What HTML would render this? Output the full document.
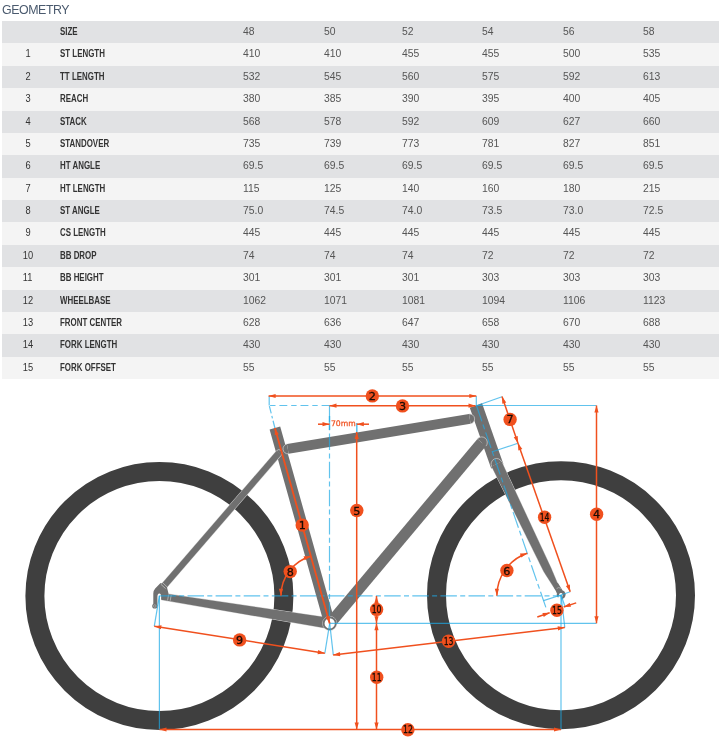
<!DOCTYPE html>
<html><head><meta charset="utf-8"><title>Geometry</title>
<style>
html,body{margin:0;padding:0;background:#fff;}
body{width:725px;height:745px;position:relative;overflow:hidden;font-family:"Liberation Sans",Arial,sans-serif;}
h2{position:absolute;left:2px;top:2px;margin:0;font-weight:normal;font-size:12.4px;letter-spacing:-0.45px;color:#4a5a6e;line-height:16px;}
.r{position:absolute;left:2px;width:717px;height:23px;}
.r span{position:absolute;top:-1.5px;line-height:22px;white-space:nowrap;}
.n{left:0;width:52px;text-align:center;font-size:10.8px;color:#333;}
.n i{font-style:normal;display:inline-block;transform:scaleX(0.86);transform-origin:50% 50%;}
.l{left:58px;font-size:11px;color:#333;font-weight:bold;}
.l i{font-style:normal;display:inline-block;transform:scaleX(0.72);transform-origin:0 50%;}
.v{font-size:10.8px;color:#555;top:-1.5px !important;}
.v i{font-style:normal;display:inline-block;transform:scaleX(0.96);transform-origin:0 50%;}
svg{position:absolute;left:0;top:0;}
.r,h2{will-change:transform;}
.bn{font-family:"DejaVu Sans",sans-serif;fill:#1a0c06;stroke:#1a0c06;stroke-width:0.3;}
.mm{font-family:"DejaVu Sans",sans-serif;stroke:#f0501e;stroke-width:0.25;}
</style></head><body>
<h2>GEOMETRY</h2>
<div class="r" style="top:21px;background:#e1e2e4"><span class="n"><i></i></span><span class="l"><i>SIZE</i></span><span class="v" style="left:241px"><i>48</i></span><span class="v" style="left:322px"><i>50</i></span><span class="v" style="left:400px"><i>52</i></span><span class="v" style="left:480px"><i>54</i></span><span class="v" style="left:561px"><i>56</i></span><span class="v" style="left:641px"><i>58</i></span></div>
<div class="r" style="top:43.38px;background:#f4f4f4"><span class="n"><i>1</i></span><span class="l"><i>ST LENGTH</i></span><span class="v" style="left:241px"><i>410</i></span><span class="v" style="left:322px"><i>410</i></span><span class="v" style="left:400px"><i>455</i></span><span class="v" style="left:480px"><i>455</i></span><span class="v" style="left:561px"><i>500</i></span><span class="v" style="left:641px"><i>535</i></span></div>
<div class="r" style="top:65.75px;background:#e1e2e4"><span class="n"><i>2</i></span><span class="l"><i>TT LENGTH</i></span><span class="v" style="left:241px"><i>532</i></span><span class="v" style="left:322px"><i>545</i></span><span class="v" style="left:400px"><i>560</i></span><span class="v" style="left:480px"><i>575</i></span><span class="v" style="left:561px"><i>592</i></span><span class="v" style="left:641px"><i>613</i></span></div>
<div class="r" style="top:88.12px;background:#f4f4f4"><span class="n"><i>3</i></span><span class="l"><i>REACH</i></span><span class="v" style="left:241px"><i>380</i></span><span class="v" style="left:322px"><i>385</i></span><span class="v" style="left:400px"><i>390</i></span><span class="v" style="left:480px"><i>395</i></span><span class="v" style="left:561px"><i>400</i></span><span class="v" style="left:641px"><i>405</i></span></div>
<div class="r" style="top:110.5px;background:#e1e2e4"><span class="n"><i>4</i></span><span class="l"><i>STACK</i></span><span class="v" style="left:241px"><i>568</i></span><span class="v" style="left:322px"><i>578</i></span><span class="v" style="left:400px"><i>592</i></span><span class="v" style="left:480px"><i>609</i></span><span class="v" style="left:561px"><i>627</i></span><span class="v" style="left:641px"><i>660</i></span></div>
<div class="r" style="top:132.88px;background:#f4f4f4"><span class="n"><i>5</i></span><span class="l"><i>STANDOVER</i></span><span class="v" style="left:241px"><i>735</i></span><span class="v" style="left:322px"><i>739</i></span><span class="v" style="left:400px"><i>773</i></span><span class="v" style="left:480px"><i>781</i></span><span class="v" style="left:561px"><i>827</i></span><span class="v" style="left:641px"><i>851</i></span></div>
<div class="r" style="top:155.25px;background:#e1e2e4"><span class="n"><i>6</i></span><span class="l"><i>HT ANGLE</i></span><span class="v" style="left:241px"><i>69.5</i></span><span class="v" style="left:322px"><i>69.5</i></span><span class="v" style="left:400px"><i>69.5</i></span><span class="v" style="left:480px"><i>69.5</i></span><span class="v" style="left:561px"><i>69.5</i></span><span class="v" style="left:641px"><i>69.5</i></span></div>
<div class="r" style="top:177.62px;background:#f4f4f4"><span class="n"><i>7</i></span><span class="l"><i>HT LENGTH</i></span><span class="v" style="left:241px"><i>115</i></span><span class="v" style="left:322px"><i>125</i></span><span class="v" style="left:400px"><i>140</i></span><span class="v" style="left:480px"><i>160</i></span><span class="v" style="left:561px"><i>180</i></span><span class="v" style="left:641px"><i>215</i></span></div>
<div class="r" style="top:200px;background:#e1e2e4"><span class="n"><i>8</i></span><span class="l"><i>ST ANGLE</i></span><span class="v" style="left:241px"><i>75.0</i></span><span class="v" style="left:322px"><i>74.5</i></span><span class="v" style="left:400px"><i>74.0</i></span><span class="v" style="left:480px"><i>73.5</i></span><span class="v" style="left:561px"><i>73.0</i></span><span class="v" style="left:641px"><i>72.5</i></span></div>
<div class="r" style="top:222.38px;background:#f4f4f4"><span class="n"><i>9</i></span><span class="l"><i>CS LENGTH</i></span><span class="v" style="left:241px"><i>445</i></span><span class="v" style="left:322px"><i>445</i></span><span class="v" style="left:400px"><i>445</i></span><span class="v" style="left:480px"><i>445</i></span><span class="v" style="left:561px"><i>445</i></span><span class="v" style="left:641px"><i>445</i></span></div>
<div class="r" style="top:244.75px;background:#e1e2e4"><span class="n"><i>10</i></span><span class="l"><i>BB DROP</i></span><span class="v" style="left:241px"><i>74</i></span><span class="v" style="left:322px"><i>74</i></span><span class="v" style="left:400px"><i>74</i></span><span class="v" style="left:480px"><i>72</i></span><span class="v" style="left:561px"><i>72</i></span><span class="v" style="left:641px"><i>72</i></span></div>
<div class="r" style="top:267.12px;background:#f4f4f4"><span class="n"><i>11</i></span><span class="l"><i>BB HEIGHT</i></span><span class="v" style="left:241px"><i>301</i></span><span class="v" style="left:322px"><i>301</i></span><span class="v" style="left:400px"><i>301</i></span><span class="v" style="left:480px"><i>303</i></span><span class="v" style="left:561px"><i>303</i></span><span class="v" style="left:641px"><i>303</i></span></div>
<div class="r" style="top:289.5px;background:#e1e2e4"><span class="n"><i>12</i></span><span class="l"><i>WHEELBASE</i></span><span class="v" style="left:241px"><i>1062</i></span><span class="v" style="left:322px"><i>1071</i></span><span class="v" style="left:400px"><i>1081</i></span><span class="v" style="left:480px"><i>1094</i></span><span class="v" style="left:561px"><i>1106</i></span><span class="v" style="left:641px"><i>1123</i></span></div>
<div class="r" style="top:311.88px;background:#f4f4f4"><span class="n"><i>13</i></span><span class="l"><i>FRONT CENTER</i></span><span class="v" style="left:241px"><i>628</i></span><span class="v" style="left:322px"><i>636</i></span><span class="v" style="left:400px"><i>647</i></span><span class="v" style="left:480px"><i>658</i></span><span class="v" style="left:561px"><i>670</i></span><span class="v" style="left:641px"><i>688</i></span></div>
<div class="r" style="top:334.25px;background:#e1e2e4"><span class="n"><i>14</i></span><span class="l"><i>FORK LENGTH</i></span><span class="v" style="left:241px"><i>430</i></span><span class="v" style="left:322px"><i>430</i></span><span class="v" style="left:400px"><i>430</i></span><span class="v" style="left:480px"><i>430</i></span><span class="v" style="left:561px"><i>430</i></span><span class="v" style="left:641px"><i>430</i></span></div>
<div class="r" style="top:356.62px;background:#f4f4f4;height:22.4px"><span class="n"><i>15</i></span><span class="l"><i>FORK OFFSET</i></span><span class="v" style="left:241px"><i>55</i></span><span class="v" style="left:322px"><i>55</i></span><span class="v" style="left:400px"><i>55</i></span><span class="v" style="left:480px"><i>55</i></span><span class="v" style="left:561px"><i>55</i></span><span class="v" style="left:641px"><i>55</i></span></div>
<svg width="725" height="745" viewBox="0 0 725 745">
<circle cx="159.4" cy="596" r="124.5" fill="none" stroke="#3f3f3f" stroke-width="19"/>
<circle cx="561" cy="595.2" r="124.5" fill="none" stroke="#3f3f3f" stroke-width="19"/>
<polygon points="161.46,599.86 328.84,628.73 330.56,618.07 162.54,593.14" fill="#707070" stroke="#d4d4d4" stroke-width="1" paint-order="stroke"/>
<line x1="274.9" y1="428" x2="329.7" y2="623.4" stroke="#707070" stroke-width="11" stroke-linecap="butt"/>
<line x1="279" y1="452.8" x2="163.5" y2="586.5" stroke="#d4d4d4" stroke-width="7.2" stroke-linecap="butt"/>
<line x1="279" y1="452.8" x2="163.5" y2="586.5" stroke="#707070" stroke-width="6.3" stroke-linecap="butt"/>
<path d="M281.42,454.89 A3.2,3.2 0 0 0 276.58,450.71 Z" fill="#707070"/><path d="M281.42,454.89 A3.2,3.2 0 0 0 276.58,450.71" fill="none" stroke="#d2d2d2" stroke-width="0.7"/>
<path d="M160.5,583 L155.2,588.5 Q153.3,590.6 153.3,593.5 L153.3,606 L157.4,606 L157.4,597 Q157.4,593.4 159.3,593.4 Q161.2,593.4 161.2,597 L161.2,599.5 L168,600.3 L168.5,593.5 L166.5,585.5 Z" fill="#707070"/>
<circle cx="154.8" cy="606" r="2.6" fill="#707070"/><circle cx="154.8" cy="606" r="1.3" fill="none" stroke="#bbb" stroke-width="0.6"/>
<path d="M160.8,584.2 L165.6,588.6 M162.5,582.6 L167.2,587" stroke="#d8d8d8" stroke-width="0.6" fill="none"/>
<path d="M168.6,594.6 L167.6,600.4 M171.2,595 L170.2,600.8" stroke="#d8d8d8" stroke-width="0.6" fill="none"/>
<line x1="475.9" y1="405.5" x2="497.32" y2="466.32" stroke="#707070" stroke-width="13" stroke-linecap="butt"/>
<line x1="481.7" y1="442.5" x2="330.1" y2="623.4" stroke="#707070" stroke-width="11.2" stroke-linecap="butt"/>
<path d="M485.99,446.1 A5.6,5.6 0 0 0 477.41,438.9 Z" fill="#707070"/><path d="M485.99,446.1 A5.6,5.6 0 0 0 477.41,438.9" fill="none" stroke="#d2d2d2" stroke-width="0.7"/>
<line x1="287.8" y1="448.9" x2="469.8" y2="418.9" stroke="#707070" stroke-width="10" stroke-linecap="butt"/>
<path d="M286.99,443.97 A5,5 0 0 0 288.61,453.83 Z" fill="#707070"/><path d="M286.99,443.97 A5,5 0 0 0 288.61,453.83" fill="none" stroke="#d2d2d2" stroke-width="0.7"/>
<path d="M470.61,423.83 A5,5 0 0 0 468.99,413.97 Z" fill="#707070"/><path d="M470.61,423.83 A5,5 0 0 0 468.99,413.97" fill="none" stroke="#d2d2d2" stroke-width="0.7"/>
<polygon points="491.64,466.38 543.81,571.8 555.51,590.05 559.49,587.95 551.19,568.2 501.56,461.62" fill="#707070" stroke="#d4d4d4" stroke-width="1" paint-order="stroke"/>
<path d="M501.56,461.62 A5.5,5.5 0 0 0 491.64,466.38 Z" fill="#707070"/><path d="M501.56,461.62 A5.5,5.5 0 0 0 491.64,466.38" fill="none" stroke="#d2d2d2" stroke-width="0.7"/>
<polygon points="553.21,585.23 556.94,593.54 562.66,590.46 557.79,582.77" fill="#707070"/>
<circle cx="561.2" cy="594.6" r="4.4" fill="#707070"/>
<path d="M559.2,594.2 A1.8,1.8 0 1 1 562.6,595.4 L561.2,600.5 L557.6,599.6 Z" fill="#fff"/>
<path d="M556.6,588.6 Q558.6,586.4 561.2,588.6" stroke="#c8c8c8" stroke-width="0.6" fill="none"/>
<circle cx="329.7" cy="623.4" r="7.1" fill="none" stroke="#d4d4d4" stroke-width="0.7"/>
<circle cx="329.7" cy="623.4" r="6.0" fill="#fff" stroke="#707070" stroke-width="1.7"/>
<line x1="274.9" y1="428" x2="269.2" y2="405.5" stroke="#1eaae6" stroke-width="1.2" stroke-dasharray="7.5,2.5,2.5,2.5" stroke-opacity="0.7"/>
<line x1="269.2" y1="405.5" x2="269.2" y2="396" stroke="#1eaae6" stroke-width="1.2" stroke-opacity="0.7"/>
<line x1="329.5" y1="405.5" x2="269.2" y2="405.5" stroke="#1eaae6" stroke-width="1.2" stroke-dasharray="7.9,3.9,5.4,3.9" stroke-opacity="0.7"/>
<line x1="329.5" y1="405.5" x2="329.5" y2="623" stroke="#1eaae6" stroke-width="1.2" stroke-dasharray="16.5,3.3,5,3.3" stroke-opacity="0.7"/>
<line x1="476.3" y1="396" x2="476.3" y2="405.5" stroke="#1eaae6" stroke-width="1.2" stroke-opacity="0.7"/>
<line x1="476.3" y1="405.5" x2="596.5" y2="405.5" stroke="#1eaae6" stroke-width="1.2" stroke-opacity="0.7"/>
<line x1="476.5" y1="405.8" x2="546.8" y2="610.11" stroke="#1eaae6" stroke-width="1.2" stroke-dasharray="16.5,3.3,5,3.3" stroke-opacity="0.7"/>
<line x1="476.5" y1="405.8" x2="502" y2="396.8" stroke="#1eaae6" stroke-width="1.2" stroke-opacity="0.7"/>
<line x1="492.3" y1="451.8" x2="517.9" y2="443.2" stroke="#1eaae6" stroke-width="1.2" stroke-opacity="0.7"/>
<line x1="159.4" y1="595.8" x2="561" y2="595.8" stroke="#1eaae6" stroke-width="1.2" stroke-dasharray="16.5,3.3,5,3.3" stroke-opacity="0.7"/>
<line x1="329.7" y1="623.4" x2="596.5" y2="623.4" stroke="#1eaae6" stroke-width="1.2" stroke-opacity="0.7"/>
<line x1="159.4" y1="595.8" x2="159.4" y2="729.5" stroke="#1eaae6" stroke-width="1.2" stroke-opacity="0.7"/>
<line x1="159.4" y1="595.8" x2="154.3" y2="626.2" stroke="#1eaae6" stroke-width="1.2" stroke-opacity="0.7"/>
<line x1="329.7" y1="623.4" x2="324.8" y2="653.5" stroke="#1eaae6" stroke-width="1.2" stroke-opacity="0.7"/>
<line x1="329.7" y1="623.4" x2="333.3" y2="655" stroke="#1eaae6" stroke-width="1.2" stroke-opacity="0.7"/>
<line x1="561" y1="595" x2="561" y2="729.5" stroke="#1eaae6" stroke-width="1.2" stroke-opacity="0.7"/>
<line x1="561" y1="595" x2="564.8" y2="627.5" stroke="#1eaae6" stroke-width="1.2" stroke-opacity="0.7"/>
<line x1="356.8" y1="423" x2="356.8" y2="433" stroke="#1eaae6" stroke-width="1.6" stroke-opacity="0.7"/>
<line x1="329.5" y1="416" x2="329.5" y2="430" stroke="#1eaae6" stroke-width="1.4" stroke-opacity="0.7"/>
<line x1="543.55" y1="600.65" x2="561" y2="595" stroke="#1eaae6" stroke-width="1.2" stroke-opacity="0.7"/>
<line x1="561" y1="595" x2="570.2" y2="591.8" stroke="#1eaae6" stroke-width="1.2" stroke-opacity="0.7"/>
<line x1="561" y1="595" x2="565.07" y2="606.82" stroke="#1eaae6" stroke-width="1.2" stroke-opacity="0.7"/>
<line x1="274.9" y1="428" x2="329.7" y2="623.4" stroke="#f0501e" stroke-width="1.8"/><polygon points="274.9,428 278.81,434.17 274.77,435.31" fill="#f0501e"/><polygon points="329.7,623.4 325.79,617.23 329.83,616.09" fill="#f0501e"/>
<line x1="268.6" y1="396" x2="476.3" y2="396" stroke="#f0501e" stroke-width="1.5"/><polygon points="268.6,396 275.6,393.9 275.6,398.1" fill="#f0501e"/><polygon points="476.3,396 469.3,398.1 469.3,393.9" fill="#f0501e"/>
<line x1="329.5" y1="405.7" x2="475.5" y2="405.7" stroke="#f0501e" stroke-width="1.5"/><polygon points="329.5,405.7 336.5,403.6 336.5,407.8" fill="#f0501e"/><polygon points="475.5,405.7 468.5,407.8 468.5,403.6" fill="#f0501e"/>
<line x1="596.5" y1="405.5" x2="596.5" y2="623.3" stroke="#f0501e" stroke-width="1.5"/><polygon points="596.5,405.5 598.6,412.5 594.4,412.5" fill="#f0501e"/><polygon points="596.5,623.3 594.4,616.3 598.6,616.3" fill="#f0501e"/>
<line x1="356.7" y1="432" x2="356.7" y2="729.5" stroke="#f0501e" stroke-width="1.5"/><polygon points="356.7,432 358.8,439 354.6,439" fill="#f0501e"/><polygon points="356.7,729.5 354.6,722.5 358.8,722.5" fill="#f0501e"/>
<line x1="502" y1="396.5" x2="518" y2="443.2" stroke="#f0501e" stroke-width="1.5"/><polygon points="502,396.5 506.26,402.44 502.28,403.8" fill="#f0501e"/><polygon points="518,443.2 513.74,437.26 517.72,435.9" fill="#f0501e"/>
<line x1="154.3" y1="626.2" x2="324.8" y2="653.2" stroke="#f0501e" stroke-width="1.5"/><polygon points="154.3,626.2 161.54,625.22 160.89,629.37" fill="#f0501e"/><polygon points="324.8,653.2 317.56,654.18 318.21,650.03" fill="#f0501e"/>
<line x1="376.5" y1="596" x2="376.5" y2="623.3" stroke="#f0501e" stroke-width="1.5"/><polygon points="376.5,596 378.6,603 374.4,603" fill="#f0501e"/><polygon points="376.5,623.3 374.4,616.3 378.6,616.3" fill="#f0501e"/>
<line x1="376.5" y1="623.3" x2="376.5" y2="729.5" stroke="#f0501e" stroke-width="1.5"/><polygon points="376.5,623.3 378.6,630.3 374.4,630.3" fill="#f0501e"/><polygon points="376.5,729.5 374.4,722.5 378.6,722.5" fill="#f0501e"/>
<line x1="159.5" y1="729.5" x2="561" y2="729.5" stroke="#f0501e" stroke-width="1.5"/><polygon points="159.5,729.5 166.5,727.4 166.5,731.6" fill="#f0501e"/><polygon points="561,729.5 554,731.6 554,727.4" fill="#f0501e"/>
<line x1="333.1" y1="654.9" x2="564.8" y2="627.5" stroke="#f0501e" stroke-width="1.5"/><polygon points="333.1,654.9 339.8,651.99 340.3,656.16" fill="#f0501e"/><polygon points="564.8,627.5 558.1,630.41 557.6,626.24" fill="#f0501e"/>
<line x1="518" y1="443.2" x2="570.2" y2="591.8" stroke="#f0501e" stroke-width="1.5"/><polygon points="518,443.2 522.3,449.11 518.34,450.5" fill="#f0501e"/><polygon points="570.2,591.8 565.9,585.89 569.86,584.5" fill="#f0501e"/>
<path d="M496.88,595.8 A45,45 0 0 1 527.24,553.25" fill="none" stroke="#f0501e" stroke-width="1.5"/><polygon points="496.88,595.8 494.78,588.8 498.98,588.8" fill="#f0501e"/><polygon points="527.24,553.25 521.3,557.51 519.93,553.54" fill="#f0501e"/>
<path d="M280.96,595.8 A41,41 0 0 1 310.89,556.32" fill="none" stroke="#f0501e" stroke-width="1.5"/><polygon points="280.96,595.8 278.86,588.8 283.06,588.8" fill="#f0501e"/><polygon points="310.89,556.32 304.72,560.24 303.58,556.19" fill="#f0501e"/>
<line x1="318" y1="424.2" x2="329.5" y2="424.2" stroke="#f0501e" stroke-width="1.5"/><polygon points="329.5,424.2 322.5,426.3 322.5,422.1" fill="#f0501e"/>
<line x1="369" y1="424.2" x2="356.8" y2="424.2" stroke="#f0501e" stroke-width="1.5"/><polygon points="356.8,424.2 363.8,422.1 363.8,426.3" fill="#f0501e"/>
<text x="343.3" y="426.2" font-size="7.7" text-anchor="middle" fill="#f0501e" class="mm">70mm</text>
<line x1="537.3" y1="617" x2="549.7" y2="612.8" stroke="#f0501e" stroke-width="1.5"/><polygon points="549.7,612.8 543.74,617.03 542.4,613.06" fill="#f0501e"/>
<line x1="576.2" y1="602.9" x2="563.7" y2="607" stroke="#f0501e" stroke-width="1.5"/><polygon points="563.7,607 569.7,602.82 571.01,606.81" fill="#f0501e"/>
<circle cx="302.2" cy="525.1" r="6.7" fill="#f0501e"/><text x="302.2" y="529.1" font-size="11.2" text-anchor="middle" class="bn">1</text>
<circle cx="372.3" cy="395.9" r="6.7" fill="#f0501e"/><text x="372.3" y="399.9" font-size="11.2" text-anchor="middle" class="bn">2</text>
<circle cx="402.5" cy="405.9" r="6.7" fill="#f0501e"/><text x="402.5" y="409.9" font-size="11.2" text-anchor="middle" class="bn">3</text>
<circle cx="596.6" cy="514.2" r="6.7" fill="#f0501e"/><text x="596.6" y="518.2" font-size="11.2" text-anchor="middle" class="bn">4</text>
<circle cx="356.8" cy="510.5" r="6.7" fill="#f0501e"/><text x="356.8" y="514.5" font-size="11.2" text-anchor="middle" class="bn">5</text>
<circle cx="506.9" cy="570.5" r="6.7" fill="#f0501e"/><text x="506.9" y="574.5" font-size="11.2" text-anchor="middle" class="bn">6</text>
<circle cx="510.1" cy="419.4" r="6.7" fill="#f0501e"/><text x="510.1" y="423.4" font-size="11.2" text-anchor="middle" class="bn">7</text>
<circle cx="290.2" cy="571.6" r="6.7" fill="#f0501e"/><text x="290.2" y="575.6" font-size="11.2" text-anchor="middle" class="bn">8</text>
<circle cx="239.65" cy="639.9" r="6.7" fill="#f0501e"/><text x="239.65" y="643.9" font-size="11.2" text-anchor="middle" class="bn">9</text>
<circle cx="376.6" cy="609.4" r="6.7" fill="#f0501e"/><text x="376.6" y="613.1" font-size="10.3" text-anchor="middle" class="bn" transform="translate(376.6,0) scale(0.75,1) translate(-376.6,0)">10</text>
<circle cx="376.7" cy="677.2" r="6.7" fill="#f0501e"/><text x="376.7" y="680.9" font-size="10.3" text-anchor="middle" class="bn" transform="translate(376.7,0) scale(0.75,1) translate(-376.7,0)">11</text>
<circle cx="407.9" cy="729.7" r="6.7" fill="#f0501e"/><text x="407.9" y="733.4" font-size="10.3" text-anchor="middle" class="bn" transform="translate(407.9,0) scale(0.75,1) translate(-407.9,0)">12</text>
<circle cx="448.6" cy="641.3" r="6.7" fill="#f0501e"/><text x="448.6" y="645" font-size="10.3" text-anchor="middle" class="bn" transform="translate(448.6,0) scale(0.75,1) translate(-448.6,0)">13</text>
<circle cx="544.6" cy="517.3" r="6.7" fill="#f0501e"/><text x="544.6" y="521" font-size="10.3" text-anchor="middle" class="bn" transform="translate(544.6,0) scale(0.75,1) translate(-544.6,0)">14</text>
<circle cx="556.9" cy="610.3" r="6.7" fill="#f0501e"/><text x="556.9" y="614" font-size="10.3" text-anchor="middle" class="bn" transform="translate(556.9,0) scale(0.75,1) translate(-556.9,0)">15</text>
</svg>
</body></html>
